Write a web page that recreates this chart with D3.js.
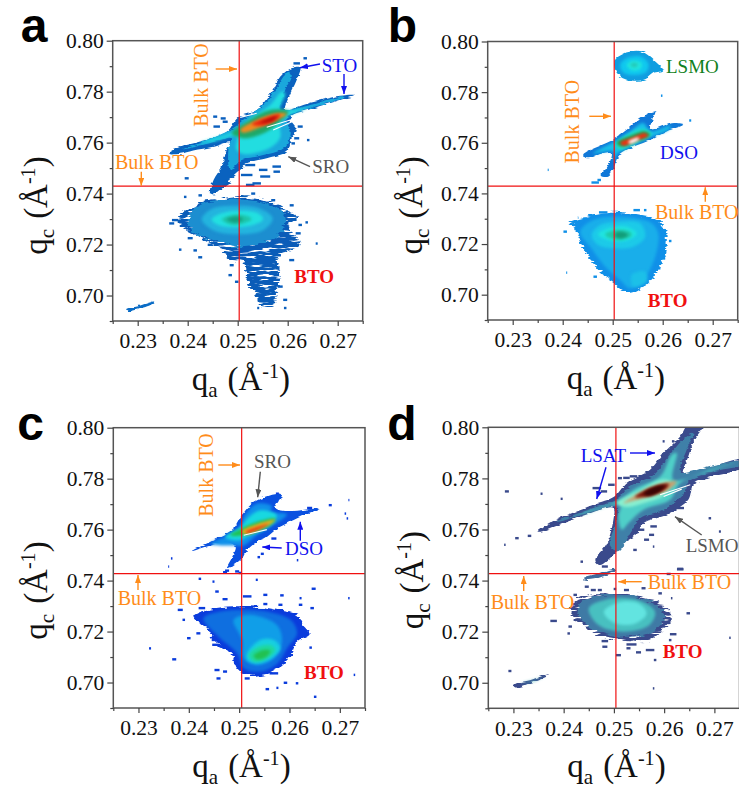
<!DOCTYPE html>
<html>
<head>
<meta charset="utf-8">
<script src="https://cdn.jsdelivr.net/npm/d3@7"></script>
<style>
body { margin: 0; background: #fff; }
text { font-family: "Liberation Serif", serif; }
</style>
</head>
<body>
<div id="viz"></div>
<script>
// all outlines are [qa, qc], specks are [qa, qc, width in qa]
const qaTicks = [0.23, 0.24, 0.25, 0.26, 0.27];
const qaMinor = [0.225, 0.235, 0.245, 0.255, 0.265, 0.275];
const qcTicks = [0.70, 0.72, 0.74, 0.76, 0.78, 0.80];
const qcMinor = [0.69, 0.71, 0.73, 0.75, 0.77, 0.79];

// panel a
const aFilm0 = [[.2361,.7556],[.2385,.7582],[.2425,.7604],[.2478,.7643],[.2501,.7699],[.2538,.7728],[.2565,.7793],[.2588,.7865],[.2610,.7894],[.2625,.7895],[.2618,.7846],[.2601,.7774],[.2595,.7728],[.2638,.7752],[.2705,.7784],[.2735,.7787],[.2705,.7767],[.2651,.7735],[.2605,.7699],[.2618,.7650],[.2608,.7617],[.2598,.7565],[.2558,.7539],[.2518,.7519],[.2505,.7493],[.2491,.7467],[.2471,.7434],[.2455,.7401],[.2445,.7401],[.2452,.7454],[.2468,.7506],[.2478,.7571],[.2485,.7600],[.2451,.7584],[.2411,.7569],[.2385,.7556]];
const aFilm1 = [[.2391,.7574],[.2438,.7608],[.2491,.7657],[.2518,.7702],[.2555,.7754],[.2578,.7819],[.2601,.7877],[.2608,.7865],[.2595,.7807],[.2585,.7728],[.2638,.7744],[.2711,.7781],[.2711,.7776],[.2638,.7731],[.2598,.7699],[.2606,.7637],[.2592,.7578],[.2545,.7548],[.2508,.7532],[.2485,.7495],[.2482,.7584],[.2488,.7617],[.2438,.7595]];
const aFilm2 = [[.2425,.7600],[.2491,.7643],[.2528,.7699],[.2565,.7748],[.2588,.7800],[.2595,.7793],[.2585,.7728],[.2638,.7735],[.2605,.7709],[.2585,.7676],[.2585,.7620],[.2565,.7580],[.2511,.7555],[.2497,.7575],[.2498,.7626],[.2451,.7604]];
const aFilm3 = [[.2488,.7637],[.2518,.7682],[.2565,.7728],[.2601,.7722],[.2588,.7689],[.2558,.7643],[.2518,.7617],[.2498,.7624]];
const aFilm4 = [[.2505,.7650],[.2538,.7689],[.2578,.7715],[.2598,.7712],[.2578,.7689],[.2545,.7660],[.2511,.7639]];
const aFilm5 = [[.2528,.7672],[.2558,.7699],[.2585,.7710],[.2581,.7695],[.2551,.7667]];
const aFilm6 = [[.2545,.7678],[.2568,.7698],[.2578,.7702],[.2568,.7686]];
const aBto0 = [[.2385,.7315],[.2405,.7341],[.2431,.7371],[.2478,.7380],[.2518,.7387],[.2565,.7367],[.2591,.7341],[.2621,.7308],[.2601,.7270],[.2625,.7205],[.2598,.7172],[.2581,.7152],[.2585,.7074],[.2578,.7009],[.2571,.6957],[.2545,.6957],[.2538,.6994],[.2521,.7060],[.2511,.7139],[.2488,.7139],[.2458,.7192],[.2418,.7237],[.2395,.7262],[.2380,.7290]];
const aBto1 = [[.2400,.7301],[.2420,.7350],[.2465,.7372],[.2511,.7376],[.2565,.7355],[.2595,.7308],[.2588,.7250],[.2550,.7205],[.2505,.7190],[.2455,.7215],[.2412,.7250]];
const aBto2 = [[.2428,.7299],[.2448,.7340],[.2491,.7352],[.2540,.7344],[.2570,.7303],[.2550,.7255],[.2498,.7240],[.2452,.7255]];
const aBto3 = [[.2448,.7299],[.2468,.7323],[.2505,.7333],[.2541,.7323],[.2551,.7299],[.2531,.7277],[.2491,.7268],[.2461,.7277]];
const aBto4 = [[.2468,.7299],[.2491,.7316],[.2518,.7313],[.2528,.7299],[.2511,.7283],[.2485,.7279]];
const aBto5 = [[.2478,.7299],[.2498,.7310],[.2511,.7299],[.2495,.7286]];
const aTail = [[.2518,.7139],[.2558,.7145],[.2565,.7074],[.2568,.6983],[.2551,.6976],[.2538,.7047]];
const aBridge = [[.2448,.7400],[.2455,.7427],[.2478,.7447],[.2488,.7447],[.2471,.7420],[.2455,.7397]];
const aStreak = [[.2277,.6946],[.2305,.6961],[.2333,.6976],[.2330,.6968],[.2305,.6949],[.2282,.6938]];
const aSlits = [[.2505,.7699,.2538,.7715],[.2558,.7660,.2605,.7689],[.2571,.7650,.2611,.7684]];
const aSpecks = [[.2455,.7702,.0008],[.2471,.7695,.001],[.2475,.7682,.001],[.2458,.7663,.0013],[.2398,.7460,.0008],[.2525,.7512,.002],[.2551,.7493,.0017],[.2578,.7506,.0017],[.2518,.7473,.0023],[.2555,.7467,.002],[.2525,.7434,.0017],[.2578,.7486,.0013],[.2625,.7663,.001],[.2618,.7617,.001],[.2641,.7610,.0005],[.2611,.7597,.0007],[.2635,.7931,.0007],[.2618,.7911,.0013],[.2375,.7296,.0013],[.2368,.7283,.001],[.2385,.7180,.0005],[.2415,.7177,.0007],[.2425,.7150,.0008],[.2405,.7225,.001],[.2445,.7199,.001],[.2488,.7119,.0008],[.2485,.7080,.0007],[.2498,.7054,.0007],[.2578,.7158,.0017],[.2598,.7205,.0017],[.2621,.7244,.001],[.2638,.7287,.0005],[.2625,.7277,.0007],[.2658,.7204,.0004],[.2608,.7139,.001],[.2585,.7035,.001],[.2595,.6983,.0008],[.2595,.6951,.0005],[.2541,.6951,.0004],[.2538,.7440,.0017],[.2531,.7400,.0008],[.2571,.7374,.0008],[.2608,.7354,.0008],[.2425,.7393,.0007],[.2395,.7387,.0005]];

// panel b
const bLsmo0 = [[.2505,.7928],[.2521,.7951],[.2548,.7963],[.2565,.7954],[.2585,.7921],[.2601,.7886],[.2581,.7875],[.2565,.7851],[.2535,.7846],[.2515,.7862],[.2505,.7888]];
const bLsmo1 = [[.2515,.7908],[.2528,.7934],[.2555,.7941],[.2571,.7914],[.2568,.7882],[.2545,.7868],[.2521,.7878]];
const bLsmo2 = [[.2528,.7908],[.2541,.7925],[.2558,.7914],[.2555,.7891],[.2538,.7886]];
const bLsmo3 = [[.2535,.7908],[.2543,.7917],[.2551,.7908],[.2543,.7897]];
const bFilm0 = [[.2441,.7553],[.2501,.7612],[.2528,.7651],[.2555,.7697],[.2585,.7724],[.2578,.7684],[.2575,.7654],[.2621,.7678],[.2641,.7671],[.2608,.7645],[.2568,.7605],[.2535,.7579],[.2511,.7546],[.2501,.7493],[.2491,.7470],[.2476,.7474],[.2488,.7500],[.2498,.7559],[.2481,.7559],[.2448,.7539]];
const bFilm1 = [[.2461,.7557],[.2505,.7607],[.2535,.7645],[.2561,.7678],[.2575,.7645],[.2615,.7667],[.2615,.7657],[.2568,.7616],[.2528,.7583],[.2508,.7553],[.2501,.7526],[.2501,.7566]];
const bFilm2 = [[.2505,.7592],[.2535,.7638],[.2561,.7654],[.2578,.7636],[.2548,.7599],[.2515,.7572]];
const bFilm3 = [[.2508,.7601],[.2535,.7628],[.2565,.7645],[.2575,.7632],[.2548,.7605],[.2515,.7586]];
const bFilm4 = [[.2515,.7601],[.2541,.7622],[.2565,.7638],[.2571,.7628],[.2548,.7609],[.2521,.7588]];
const bFilm5 = [[.2531,.7603],[.2551,.7621],[.2553,.7614],[.2535,.7596]];
const bBto0 = [[.2411,.7282],[.2448,.7308],[.2505,.7324],[.2548,.7314],[.2588,.7295],[.2605,.7255],[.2608,.7203],[.2601,.7137],[.2581,.7071],[.2561,.7032],[.2535,.7008],[.2515,.7025],[.2501,.7051],[.2481,.7078],[.2465,.7111],[.2445,.7170],[.2435,.7216],[.2425,.7262]];
const bBto1 = [[.2435,.7249],[.2461,.7295],[.2501,.7308],[.2548,.7301],[.2578,.7282],[.2591,.7242],[.2585,.7150],[.2561,.7058],[.2535,.7025],[.2515,.7058],[.2488,.7104],[.2455,.7189]];
const bBto2 = [[.2458,.7236],[.2475,.7275],[.2515,.7288],[.2555,.7282],[.2565,.7229],[.2541,.7189],[.2501,.7183],[.2471,.7196]];
const bBto3 = [[.2471,.7239],[.2495,.7264],[.2528,.7268],[.2548,.7242],[.2531,.7216],[.2498,.7212]];
const bBto4 = [[.2485,.7239],[.2508,.7255],[.2535,.7249],[.2538,.7233],[.2515,.7218],[.2491,.7226]];
const bBto5 = [[.2505,.7242],[.2518,.7249],[.2531,.7236],[.2518,.7222],[.2505,.7229]];
const bGlow = [[.2538,.7078],[.2565,.7091],[.2568,.7051],[.2541,.7032]];
const bSpecks = [[.2548,.7334,.0013],[.2481,.7325,.0017],[.2405,.7249,.0007],[.2408,.7087,.0002],[.2615,.7212,.0005],[.2601,.7143,.0008],[.2588,.7104,.0015],[.2465,.7071,.0007],[.2445,.7301,.0008],[.2455,.7314,.0007],[.2565,.7334,.0005],[.2598,.7255,.0015],[.2465,.7443,.0015],[.2473,.7453,.0007],[.2598,.7786,.0003],[.2655,.7688,.0004],[.2371,.7493,.0002]];

// panel c
const cFilm0 = [[.2406,.7516],[.2456,.7565],[.2489,.7604],[.2505,.7656],[.2522,.7696],[.2539,.7718],[.2585,.7739],[.2572,.7686],[.2595,.7673],[.2658,.7682],[.2628,.7656],[.2576,.7604],[.2555,.7571],[.2535,.7551],[.2515,.7518],[.2505,.7486],[.2476,.7450],[.2486,.7492],[.2493,.7532],[.2476,.7551],[.2443,.7538]];
const cFilm1 = [[.2443,.7545],[.2496,.7597],[.2511,.7656],[.2535,.7702],[.2565,.7692],[.2562,.7670],[.2595,.7660],[.2562,.7610],[.2535,.7578],[.2509,.7538],[.2493,.7538]];
const cFilm2 = [[.2472,.7571],[.2503,.7610],[.2516,.7643],[.2542,.7676],[.2575,.7657],[.2556,.7610],[.2522,.7578],[.2499,.7558]];
const cFilm3 = [[.2482,.7578],[.2505,.7604],[.2535,.7630],[.2572,.7643],[.2569,.7630],[.2542,.7597],[.2509,.7578]];
const cFilm4 = [[.2505,.7593],[.2535,.7621],[.2572,.7639],[.2565,.7626],[.2539,.7600],[.2512,.7582]];
const cFilm5 = [[.2512,.7591],[.2542,.7614],[.2559,.7624],[.2542,.7604],[.2519,.7587]];
const cSlits = [[.2509,.7578,.2555,.7600]];
const cBto0 = [[.2409,.7259],[.2436,.7285],[.2479,.7298],[.2529,.7298],[.2576,.7285],[.2615,.7266],[.2628,.7226],[.2642,.7193],[.2615,.7161],[.2605,.7115],[.2585,.7069],[.2549,.7032],[.2516,.7030],[.2496,.7056],[.2486,.7108],[.2456,.7154],[.2436,.7207]];
const cBto1 = [[.2429,.7252],[.2462,.7279],[.2502,.7285],[.2555,.7279],[.2602,.7246],[.2615,.7193],[.2595,.7134],[.2576,.7075],[.2542,.7043],[.2509,.7056],[.2496,.7115],[.2459,.7180]];
const cBto2 = [[.2489,.7246],[.2522,.7266],[.2575,.7226],[.2585,.7161],[.2569,.7095],[.2535,.7069],[.2509,.7095],[.2506,.7167]];
const cBto3 = [[.2516,.7115],[.2542,.7167],[.2569,.7167],[.2582,.7134],[.2565,.7095],[.2535,.7075],[.2516,.7089]];
const cBto4 = [[.2519,.7108],[.2539,.7141],[.2562,.7147],[.2572,.7128],[.2556,.7095],[.2529,.7082]];
const cBto5 = [[.2529,.7106],[.2549,.7128],[.2562,.7124],[.2552,.7098],[.2535,.7091]];
const cSpecks = [[.2366,.7487,.0003],[.2360,.7455,.0002],[.2576,.7741,.0006],[.2640,.7685,.001],[.2681,.7696,.0006],[.2718,.7716,.0002],[.2546,.7505,.0006],[.2539,.7492,.0005],[.2569,.7565,.001],[.2616,.7480,.0003],[.2472,.7433,.0008],[.2502,.7430,.0006],[.2715,.7644,.0003],[.2711,.7663,.0003],[.2516,.7338,.0017],[.2552,.7344,.0008],[.2585,.7342,.0007],[.2552,.7308,.0008],[.2622,.7331,.0004],[.2582,.7305,.0008],[.2648,.7368,.0008],[.2645,.7292,.0007],[.2622,.7305,.0007],[.2426,.7292,.0013],[.2383,.7285,.001],[.2390,.7246,.0005],[.2400,.7174,.0007],[.2419,.7193,.0008],[.2452,.7167,.0013],[.2455,.7148,.0017],[.2371,.7091,.0008],[.2323,.7134,.0004],[.2459,.7016,.0008],[.2456,.7049,.001],[.2472,.7043,.0008],[.2556,.6974,.0007],[.2516,.7016,.001],[.2569,.7036,.0017],[.2615,.6997,.0005],[.2642,.7137,.0005],[.2651,.6944,.0005],[.2576,.6979,.0004],[.2592,.6999,.0007],[.2729,.7030,.0003],[.2456,.7357,.0007],[.2472,.7327,.001],[.2449,.7396,.0004],[.2422,.7407,.0005],[.2476,.7439,.0008],[.2496,.7436,.0008],[.2535,.7403,.0004],[.2718,.7331,.0003]];

// panel d
const dFilm0 = [[.2350,.7592],[.2386,.7638],[.2459,.7697],[.2501,.7729],[.2525,.7782],[.2572,.7834],[.2599,.7899],[.2632,.7964],[.2648,.8010],[.2678,.8010],[.2661,.7952],[.2648,.7886],[.2638,.7814],[.2685,.7840],[.2760,.7875],[.2760,.7845],[.2685,.7801],[.2658,.7775],[.2648,.7716],[.2605,.7658],[.2559,.7625],[.2545,.7579],[.2519,.7546],[.2502,.7507],[.2472,.7461],[.2463,.7481],[.2486,.7546],[.2499,.7638],[.2499,.7684],[.2453,.7664],[.2400,.7625],[.2356,.7592]];
const dFilm1 = [[.2386,.7631],[.2459,.7684],[.2506,.7716],[.2532,.7769],[.2579,.7813],[.2608,.7885],[.2638,.7952],[.2658,.7978],[.2645,.7912],[.2632,.7825],[.2698,.7851],[.2760,.7870],[.2760,.7856],[.2698,.7827],[.2648,.7788],[.2638,.7736],[.2599,.7677],[.2552,.7644],[.2535,.7592],[.2508,.7515],[.2492,.7540],[.2506,.7638],[.2506,.7688],[.2459,.7671],[.2393,.7631]];
const dFilm2 = [[.2433,.7660],[.2506,.7710],[.2545,.7762],[.2592,.7807],[.2615,.7892],[.2625,.7899],[.2618,.7795],[.2698,.7838],[.2744,.7866],[.2698,.7832],[.2632,.7782],[.2612,.7716],[.2559,.7677],[.2529,.7625],[.2516,.7599],[.2509,.7651],[.2513,.7697],[.2439,.7660]];
const dFilm3 = [[.2506,.7703],[.2552,.7755],[.2595,.7795],[.2612,.7788],[.2602,.7736],[.2559,.7703],[.2525,.7688]];
const dFilm4 = [[.2519,.7703],[.2559,.7752],[.2599,.7782],[.2625,.7788],[.2609,.7756],[.2566,.7727],[.2533,.7710]];
const dFilm5 = [[.2542,.7727],[.2572,.7762],[.2609,.7779],[.2605,.7762],[.2572,.7732]];
const dFilm6 = [[.2559,.7740],[.2582,.7768],[.2602,.7773],[.2592,.7749],[.2569,.7732]];
const dSlits = [[.2592,.7736,.2652,.7775],[.2599,.7729,.2635,.7758]];
const dBridge = [[.2439,.7409],[.2463,.7425],[.2502,.7446],[.2502,.7438],[.2472,.7412],[.2443,.7403]];
const dBto0 = [[.2416,.7305],[.2446,.7344],[.2486,.7350],[.2539,.7344],[.2579,.7324],[.2609,.7285],[.2615,.7246],[.2599,.7207],[.2572,.7167],[.2525,.7167],[.2479,.7180],[.2439,.7226],[.2419,.7259]];
const dBto1 = [[.2428,.7292],[.2455,.7338],[.2499,.7345],[.2550,.7332],[.2592,.7292],[.2600,.7250],[.2575,.7200],[.2525,.7180],[.2475,.7198],[.2438,.7243]];
const dBto2 = [[.2450,.7292],[.2495,.7330],[.2550,.7322],[.2582,.7278],[.2570,.7225],[.2520,.7200],[.2470,.7225]];
const dBto3 = [[.2480,.7278],[.2510,.7315],[.2550,.7310],[.2565,.7270],[.2540,.7230],[.2500,.7235]];
const dStreak0 = [[.2300,.6993],[.2333,.7010],[.2370,.7033],[.2366,.7024],[.2333,.6998],[.2303,.6982]];
const dStreak1 = [[.2313,.6997],[.2346,.7014],[.2363,.7026],[.2343,.7007]];
const dSpecks = [[.2287,.7749,.0008],[.2356,.7740,.0004],[.2396,.7720,.0004],[.2332,.7575,.0007],[.2307,.7566,.0007],[.2283,.7540,.0003],[.2466,.7762,.0017],[.2480,.7749,.0013],[.2525,.7802,.0013],[.2539,.7808,.0015],[.2495,.7775,.0013],[.2512,.7801,.0008],[.2572,.7899,.0004],[.2599,.7945,.0004],[.2618,.7945,.0005],[.2691,.7644,.0005],[.2711,.7592,.0004],[.2632,.7684,.0015],[.2618,.7677,.0013],[.2579,.7612,.0013],[.2575,.7579,.001],[.2565,.7560,.001],[.2552,.7599,.0017],[.2542,.7520,.0007],[.2579,.7533,.0003],[.2436,.7474,.0005],[.2632,.7444,.0013],[.2609,.7426,.0008],[.2380,.7242,.0013],[.2293,.7046,.0006],[.2413,.7220,.0007],[.2410,.7193,.0005],[.2648,.7272,.0007],[.2618,.7190,.0013],[.2612,.7167,.0005],[.2482,.7163,.0013],[.2482,.7141,.001],[.2535,.7150,.002],[.2509,.7108,.001],[.2549,.7119,.001],[.2572,.7128,.0017],[.2529,.7135,.0008],[.2459,.7363,.001],[.2472,.7363,.0008],[.2502,.7367,.0005],[.2525,.7363,.001],[.2559,.7370,.0008],[.2592,.7350,.0007],[.2446,.7376,.0008],[.2423,.7344,.0007],[.2615,.7331,.0003],[.2582,.7089,.0005],[.2579,.6978,.0003],[.2632,.7446,.0012],[.2482,.7455,.0012],[.2731,.7176,.0003]];

const panels = [
  { letter: 'a', lx: -92, ly: 1, tx: -66, ty: 214, box: [112.7, 362.7, 40.7, 321], bulk: [0.2503, 0.7429],
    speck: '#0a5fbe', specks: aSpecks, slits: aSlits,
    layers: [[aStreak, '#0a6cc6', 'edge'], [aBridge, '#0a5cb8', 'rough'], [aFilm0, '#0a62bf', 'edge'], [aFilm1, '#1aa8dc', 'edge'], [aFilm2, '#22dde0', 'soft'], [aFilm3, '#1fa868', 'soft'], [aFilm4, '#f08a20', 'soft'], [aFilm5, '#e82810', 'soft'], [aFilm6, '#a80808', 'soft'],
             [aTail, '#0f6fc4', 'speck'], [aBto0, '#0a5cb8', 'speck'], [aBto1, '#1c8ed0', 'rough'], [aBto2, '#23b4de', 'soft'], [aBto3, '#22e0e0', 'soft'], [aBto4, '#1dc4a8', 'soft'], [aBto5, '#139f80', 'soft']] },
  { letter: 'b', lx: -100, ly: 0, tx: -66, ty: 213, box: [487.7, 737.7, 41.5, 320], bulk: [0.2503, 0.7429],
    speck: '#1090e8', specks: bSpecks, slits: [],
    layers: [[bLsmo0, '#109de0', 'edge'], [bLsmo1, '#10c8ee', 'soft'], [bLsmo2, '#20e6e0', 'soft'], [bLsmo3, '#25c8b8', 'soft'],
             [bFilm0, '#1078d8', 'edge'], [bFilm1, '#18c0e8', 'soft'], [bFilm2, '#20e0c8', 'soft'], [bFilm3, '#1f9f50', 'soft'], [bFilm4, '#ee3010', 'soft'], [bFilm5, '#ffffff', 'soft'],
             [bBto0, '#1090e8', 'rough'], [bBto1, '#19aeea', 'soft'], [bGlow, '#1cc0e8', 'soft'], [bBto2, '#1ccae8', 'soft'], [bBto3, '#20e4e0', 'soft'], [bBto4, '#1fc8a8', 'soft'], [bBto5, '#129c78', 'soft']] },
  { letter: 'c', lx: -96, ly: 12, tx: -66, ty: 212, box: [113.3, 365, 427.7, 708], bulk: [0.2505, 0.7427],
    speck: '#0a3cdc', specks: cSpecks, slits: cSlits,
    layers: [[cFilm0, '#0a50e0', 'edge'], [cFilm1, '#1090ea', 'soft'], [cFilm2, '#18d8e0', 'soft'], [cFilm3, '#20c050', 'soft'], [cFilm4, '#f0b020', 'soft'], [cFilm5, '#e83010', 'soft'],
             [cBto0, '#0a3cdc', 'rough'], [cBto1, '#0f6fe0', 'soft'], [cBto2, '#109ee8', 'soft'], [cBto3, '#18d0e0', 'soft'], [cBto4, '#1fd8a0', 'soft'], [cBto5, '#22c050', 'soft']] },
  { letter: 'd', lx: -101, ly: 13, tx: -65, ty: 202, box: [488.3, 739.5, 427.3, 708.3], bulk: [0.2504, 0.7427],
    speck: '#3a4a8c', specks: dSpecks, slits: dSlits,
    layers: [[dStreak0, '#3a4a8c', 'edge'], [dStreak1, '#48b0b8', 'soft'], [dBridge, '#3f6a9c', 'edge'],
             [dFilm0, '#3a4a8c', 'edge'], [dFilm1, '#3f80a8', 'edge'], [dFilm2, '#4fcfc8', 'soft'], [dFilm3, '#8af0d0', 'soft'], [dFilm4, '#c8a070', 'soft'], [dFilm5, '#7a1208', 'soft'], [dFilm6, '#3a0505', 'soft'],
             [dBto0, '#3a4a8c', 'speck'], [dBto1, '#3f7aa5', 'rough'], [dBto2, '#48c0c0', 'soft'], [dBto3, '#62e4e0', 'soft']] }
];

const orange = '#ff8c1a', blue = '#1010ee', gray = '#555', red = '#f01010', green = '#108020';

// text notes, in page pixels; rot is a rotated label
const notes = [
  { t: 'Bulk BTO', x: 207.7, y: 85, c: orange, rot: true }, { t: 'Bulk BTO', x: 115, y: 169, c: orange },
  { t: 'STO', x: 321.7, y: 71.7, c: blue }, { t: 'SRO', x: 312.3, y: 173.3, c: gray }, { t: 'BTO', x: 294.3, y: 282.7, c: red, b: true },
  { t: 'Bulk BTO', x: 579.3, y: 121.7, c: orange, rot: true }, { t: 'LSMO', x: 666, y: 73.3, c: green },
  { t: 'DSO', x: 660, y: 159.3, c: blue }, { t: 'Bulk BTO', x: 655, y: 219.3, c: orange }, { t: 'BTO', x: 647.7, y: 306.7, c: red, b: true },
  { t: 'Bulk BTO', x: 213.3, y: 475, c: orange, rot: true }, { t: 'SRO', x: 254, y: 468.3, c: gray },
  { t: 'DSO', x: 285, y: 555, c: blue }, { t: 'Bulk BTO', x: 117.7, y: 605, c: orange }, { t: 'BTO', x: 304, y: 679, c: red, b: true },
  { t: 'LSAT', x: 580.7, y: 462.3, c: blue }, { t: 'LSMO', x: 685.7, y: 551.7, c: gray },
  { t: 'Bulk BTO', x: 647.7, y: 589, c: orange }, { t: 'Bulk BTO', x: 490.7, y: 609.3, c: orange }, { t: 'BTO', x: 662.7, y: 657.7, c: red, b: true }
];

const arrows = [
  [215.7, 69, 237, 69, orange], [141.3, 171.7, 141.3, 185.7, orange], [320, 64, 300, 67.7, blue], [344, 74, 344, 94, blue], [310, 166.7, 288.3, 156.7, gray],
  [589.3, 116.3, 611, 116.3, orange], [705.3, 201.7, 705.3, 187.3, orange],
  [218.3, 465, 240, 465, orange], [260.3, 471.7, 257.7, 497.3, gray], [281.7, 548, 262.3, 547, blue], [300.3, 540.7, 300.3, 521.7, blue], [138, 590, 138, 575, orange],
  [630, 453, 655, 453, blue], [606, 467.3, 596.7, 499, blue], [701.7, 535, 675, 516.7, gray], [641.7, 581.7, 618.3, 581.7, orange], [523.7, 591, 523.7, 576, orange]
];

const svg = d3.select('#viz').append('svg').attr('width', 739).attr('height', 796).style('display', 'block');
const defs = svg.append('defs');

function makeFilter(id, blur, scale, holes) {
  const f = defs.append('filter').attr('id', id).attr('filterUnits', 'userSpaceOnUse')
    .attr('x', 0).attr('y', 0).attr('width', 739).attr('height', 796)
    .attr('color-interpolation-filters', 'sRGB');
  let last = 'SourceGraphic';
  if (scale) {
    // streaky edges, the scans are horizontal
    f.append('feTurbulence').attr('type', 'fractalNoise').attr('baseFrequency', '0.07 0.4')
      .attr('numOctaves', 2).attr('seed', 4).attr('result', 'n');
    f.append('feDisplacementMap').attr('in', 'SourceGraphic').attr('in2', 'n').attr('scale', scale)
      .attr('xChannelSelector', 'R').attr('yChannelSelector', 'G').attr('result', 'd');
    last = 'd';
  }
  if (holes) {
    f.append('feColorMatrix').attr('in', 'n').attr('type', 'matrix')
      .attr('values', '0 0 0 0 0  0 0 0 0 0  0 0 0 0 0  9 0 0 0 -2.9').attr('result', 'm');
    f.append('feComposite').attr('in', last).attr('in2', 'm').attr('operator', 'in').attr('result', 'c');
    last = 'c';
  }
  f.append('feGaussianBlur').attr('in', last).attr('stdDeviation', blur);
}
makeFilter('soft', 1.6);
makeFilter('fine', 0.4);
makeFilter('edge', 0.5, 4);
makeFilter('rough', 0.5, 8);
makeFilter('speck', 0.4, 9, true);

['#ff8c1a', '#1010ee', '#555'].forEach((c, i) => {
  defs.append('marker').attr('id', 'head' + i).attr('viewBox', '0 0 8 6').attr('refX', 8).attr('refY', 3)
    .attr('markerWidth', 8).attr('markerHeight', 6).attr('markerUnits', 'userSpaceOnUse').attr('orient', 'auto')
    .append('path').attr('d', 'M0,0L8,3L0,6Z').attr('fill', c);
});

function axisTitle(sel, sub) {
  sel.attr('fill', '#111').style('font-size', '33px');
  sel.append('tspan').text('q');
  sel.append('tspan').text(sub).attr('dy', 7).style('font-size', '21px');
  sel.append('tspan').text('(Å').attr('dy', -7).attr('dx', 10);
  sel.append('tspan').text('-1').attr('dy', -12).style('font-size', '20px');
  sel.append('tspan').text(')').attr('dy', 12);
}

panels.forEach((p, i) => {
  const [l, r, t, b] = p.box;
  const x = d3.scaleLinear().domain([0.225, 0.275]).range([l, r]);
  const y = d3.scaleLinear().domain([0.69, 0.80]).range([b, t]);
  const g = svg.append('g');

  defs.append('clipPath').attr('id', 'clip' + i).append('rect')
    .attr('x', l).attr('y', t).attr('width', r - l).attr('height', b - t);

  const blobs = g.append('g').attr('clip-path', `url(#clip${i})`);
  const outline = d3.line().x(d => x(d[0])).y(d => y(d[1])).curve(d3.curveCatmullRomClosed.alpha(0.5));

  blobs.append('g').attr('filter', 'url(#fine)').selectAll('rect.speck').data(p.specks).enter().append('rect')
    .attr('class', 'speck')
    .attr('x', d => x(d[0] - d[2] / 2))
    .attr('y', d => y(d[1]) - 1.2)
    .attr('width', d => x(d[2]) - x(0))
    .attr('height', 2.4)
    .attr('fill', p.speck);

  blobs.selectAll('path.level').data(p.layers).enter().append('path')
    .attr('class', 'level')
    .attr('d', d => outline(d[0]))
    .attr('fill', d => d[1])
    .attr('filter', d => `url(#${d[2]})`);

  blobs.selectAll('line.slit').data(p.slits).enter().append('line')
    .attr('class', 'slit')
    .attr('x1', d => x(d[0])).attr('y1', d => y(d[1]))
    .attr('x2', d => x(d[2])).attr('y2', d => y(d[3]))
    .attr('stroke', '#fff').attr('stroke-width', 1.1);

  // bulk lines
  g.append('line').attr('x1', x(p.bulk[0])).attr('x2', x(p.bulk[0])).attr('y1', t).attr('y2', b)
    .attr('stroke', red).attr('stroke-width', 1.2);
  g.append('line').attr('x1', l).attr('x2', r).attr('y1', y(p.bulk[1])).attr('y2', y(p.bulk[1]))
    .attr('stroke', red).attr('stroke-width', 1.2);

  // frame and axes
  g.append('rect').attr('x', l).attr('y', t).attr('width', r - l).attr('height', b - t)
    .attr('fill', 'none').attr('stroke', '#555').attr('stroke-width', 1.5);

  const xAxis = g.append('g').attr('transform', `translate(0,${b})`)
    .call(d3.axisBottom(x).tickValues(qaTicks).tickFormat(d3.format('.2f')).tickSize(5).tickSizeOuter(0));
  const xMinor = g.append('g').attr('transform', `translate(0,${b})`)
    .call(d3.axisBottom(x).tickValues(qaMinor).tickFormat('').tickSize(3).tickSizeOuter(0));
  const yAxis = g.append('g').attr('transform', `translate(${l},0)`)
    .call(d3.axisLeft(y).tickValues(qcTicks).tickFormat(d3.format('.2f')).tickSize(6).tickSizeOuter(0));
  const yMinor = g.append('g').attr('transform', `translate(${l},0)`)
    .call(d3.axisLeft(y).tickValues(qcMinor).tickFormat('').tickSize(3).tickSizeOuter(0));
  [xAxis, xMinor, yAxis, yMinor].forEach(a => {
    a.select('.domain').remove();
    a.selectAll('line').attr('stroke', '#444').attr('stroke-width', 1.2);
    a.selectAll('text').attr('fill', '#111').style('font-family', '"Liberation Serif", serif').style('font-size', '21.5px');
  });
  xAxis.selectAll('text').attr('dy', '0.9em');

  // titles
  axisTitle(g.append('text').attr('x', l + 79).attr('y', b + 69), 'a');
  axisTitle(g.append('text').attr('transform', `translate(${l + p.tx},${t + p.ty}) rotate(-90)`), 'c');

  g.append('text').text(p.letter)
    .attr('x', l + p.lx).attr('y', t + p.ly)
    .style('font-family', '"Liberation Sans", Arial, sans-serif').style('font-weight', 'bold').style('font-size', '48px').attr('fill', '#000');
});

svg.selectAll('line.arrow').data(arrows).enter().append('line')
  .attr('class', 'arrow')
  .attr('x1', d => d[0]).attr('y1', d => d[1]).attr('x2', d => d[2]).attr('y2', d => d[3])
  .attr('stroke', d => d[4]).attr('stroke-width', 1.4)
  .attr('marker-end', d => `url(#head${d[4] === orange ? 0 : d[4] === blue ? 1 : 2})`);

svg.selectAll('text.note').data(notes).enter().append('text')
  .attr('class', 'note')
  .text(d => d.t)
  .attr('fill', d => d.c)
  .attr('font-weight', d => d.b ? 'bold' : null)
  .attr('text-anchor', d => d.rot ? 'middle' : 'start')
  .attr('transform', d => `translate(${d.x},${d.y})` + (d.rot ? ' rotate(-90)' : ''))
  .style('font-size', d => d.t === 'Bulk BTO' ? '20px' : '19px');
</script>
</body>
</html>
